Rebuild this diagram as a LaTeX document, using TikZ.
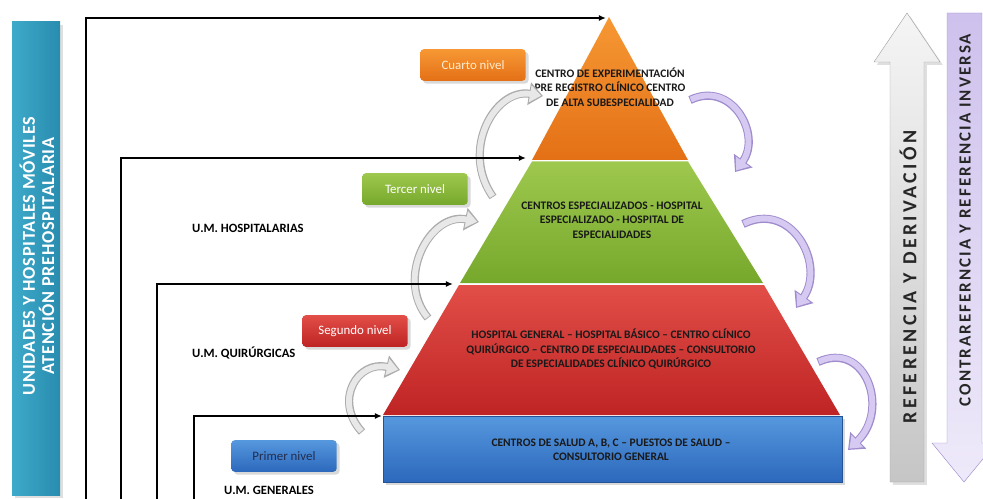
\documentclass[tikz,border=0pt]{standalone}
\usepackage{fontspec}
\setmainfont{Carlito}
\usetikzlibrary{arrows.meta,shadows}

\definecolor{barblue}{RGB}{62,170,202}
\definecolor{barbluedk}{RGB}{40,140,175}
\definecolor{orgtop}{RGB}{246,152,52}
\definecolor{orgbot}{RGB}{228,112,22}
\definecolor{grntop}{RGB}{158,200,78}
\definecolor{grnbot}{RGB}{118,168,44}
\definecolor{redtop}{RGB}{226,78,72}
\definecolor{redbot}{RGB}{190,36,36}
\definecolor{blutop}{RGB}{86,152,222}
\definecolor{blubot}{RGB}{44,104,188}
\definecolor{lila}{RGB}{214,202,242}
\definecolor{liladk}{RGB}{160,140,205}
\definecolor{cream}{RGB}{255,236,205}
\definecolor{navy}{RGB}{35,45,78}

\tikzset{
  frame/.style={line width=1.2pt, -{Latex[length=6pt,width=5pt]}},
  pyrtext/.style={font=\bfseries\fontsize{9.8}{12.3}\selectfont, text=black!90, align=center},
  umtext/.style={font=\bfseries\fontsize{10.8}{12}\selectfont, anchor=west},
  nivel/.style={rounded corners=3pt, minimum width=90pt, minimum height=27pt,
    font=\fontsize{11}{13}\selectfont, drop shadow={opacity=0.3}},
  grayout/.style={line width=7pt, draw=gray!65, -{Triangle[length=12pt,width=19pt]}},
  grayin/.style={line width=5pt, draw=gray!18, -{Triangle[length=9.5pt,width=14pt]},
    shorten >=1.6pt, shorten <=0.8pt},
  lilaout/.style={line width=7pt, draw=liladk, -{Triangle[length=12pt,width=19pt]}},
  lilain/.style={line width=5pt, draw=lila, -{Triangle[length=9.5pt,width=14pt]},
    shorten >=1.6pt, shorten <=0.8pt},
  bigtext/.style={text=black!85, rotate=90}
}

\begin{document}
\begin{tikzpicture}[x=0.3mm,y=-0.3mm]
\useasboundingbox (0,0) rectangle (983,499);

% left bar
\shade[left color=barblue, right color=barbluedk, drop shadow={opacity=0.25}]
  (12,22) rectangle (60,495);
\node[rotate=90, text=white, align=center,
  font=\bfseries\fontsize{15.5}{16.5}\selectfont\addfontfeatures{LetterSpace=4}]
  (bar) at (37,256) {UNIDADES Y HOSPITALES MÓVILES\\ATENCIÓN PREHOSPITALARIA};

% pyramid
\coordinate (apex) at (609,17);
\coordinate (ol) at (532,160);
\coordinate (or) at (688,160);
\coordinate (gl) at (460,283);
\coordinate (gr) at (763,283);
\coordinate (rl) at (383,415);
\coordinate (rr) at (840,415);

\shade[top color=orgtop, bottom color=orgbot] (apex) -- (or) -- (ol) -- cycle;
\shade[top color=grntop, bottom color=grnbot] (532,161.5) -- (688,161.5) -- (gr) -- (gl) -- cycle;
\shade[top color=redtop, bottom color=redbot] (459,285) -- (764,285) -- (rr) -- (rl) -- cycle;
\shade[top color=blutop, bottom color=blubot, draw=blubot!80!black, drop shadow={opacity=0.3}]
  (383,416) rectangle (842,482);

\node[pyrtext] (t4) at (610,87) {CENTRO DE EXPERIMENTACIÓN\\PRE REGISTRO CLÍNICO CENTRO\\DE ALTA SUBESPECIALIDAD};
\node[pyrtext] (t3) at (612,220) {CENTROS ESPECIALIZADOS - HOSPITAL\\ESPECIALIZADO - HOSPITAL DE\\ESPECIALIDADES};
\node[pyrtext] (t2) at (611,349) {HOSPITAL GENERAL – HOSPITAL BÁSICO – CENTRO CLÍNICO\\QUIRÚRGICO – CENTRO DE ESPECIALIDADES – CONSULTORIO\\DE ESPECIALIDADES CLÍNICO QUIRÚRGICO};
\node[pyrtext] (t1) at (611,450) {CENTROS DE SALUD A, B, C – PUESTOS DE SALUD –\\CONSULTORIO GENERAL};

% level labels
\node[nivel, top color=orgtop, bottom color=orgbot, text=cream] (n4) at (473,65) {Cuarto nivel};
\node[nivel, top color=grntop, bottom color=grnbot, text=white] (n3) at (415,189) {Tercer nivel};
\node[nivel, top color=redtop, bottom color=redbot, text=white] (n2) at (355,331) {Segundo nivel};
\node[nivel, top color=blutop, bottom color=blubot, text=navy] (n1) at (284,456) {Primer nivel};

\node[umtext] (um3) at (188,228) {U.M. HOSPITALARIAS};
\node[umtext] (um2) at (188,353) {U.M. QUIRÚRGICAS};
\node[umtext] (um1) at (220,490) {U.M. GENERALES};

% curved arrows up (referencia)
\coordinate (g1t) at (362,432); \coordinate (g1a) at (333,400);
\coordinate (g1b) at (358,360); \coordinate (g1h) at (400,370);
\coordinate (g2t) at (428,318); \coordinate (g2a) at (395,278);
\coordinate (g2b) at (430,212); \coordinate (g2h) at (479,222);
\coordinate (g3t) at (493,197); \coordinate (g3a) at (460,150);
\coordinate (g3b) at (495,88);  \coordinate (g3h) at (543,96);
\foreach \t/\a/\b/\h in {g1t/g1a/g1b/g1h, g2t/g2a/g2b/g2h, g3t/g3a/g3b/g3h} {
  \draw[grayout] (\t) .. controls (\a) and (\b) .. (\h);
  \draw[grayin] (\t) .. controls (\a) and (\b) .. (\h);
}

% curved arrows down (contrarreferencia)
\coordinate (p1t) at (690,100); \coordinate (p1a) at (732,80);
\coordinate (p1b) at (762,135); \coordinate (p1h) at (735,172);
\coordinate (p2t) at (743,224); \coordinate (p2a) at (792,200);
\coordinate (p2b) at (826,265); \coordinate (p2h) at (796,308);
\coordinate (p3t) at (818,362); \coordinate (p3a) at (866,340);
\coordinate (p3b) at (890,410); \coordinate (p3h) at (848,450);
\foreach \t/\a/\b/\h in {p1t/p1a/p1b/p1h, p2t/p2a/p2b/p2h, p3t/p3a/p3b/p3h} {
  \draw[lilaout] (\t) .. controls (\a) and (\b) .. (\h);
  \draw[lilain] (\t) .. controls (\a) and (\b) .. (\h);
}

% frames
\coordinate (f1) at (86,505);  \coordinate (e1) at (606,18);
\coordinate (f2) at (121,505); \coordinate (e2) at (526,158);
\coordinate (f3) at (157,505); \coordinate (e3) at (453,284);
\coordinate (f4) at (194,505); \coordinate (e4) at (382,416);
\draw[frame] (f1) |- (e1);
\draw[frame] (f2) |- (e2);
\draw[frame] (f3) |- (e3);
\draw[frame] (f4) |- (e4);

% big arrows on the right
\shade[top color=gray!8, bottom color=gray!45, draw=gray!70, drop shadow={opacity=0.25}]
  (890,482) -- (890,62) -- (874,62) -- (907,13) -- (940,62) -- (924,62) -- (924,482) -- cycle;
\node[bigtext, font=\bfseries\fontsize{17}{19}\selectfont\addfontfeatures{LetterSpace=17}]
  (ref) at (908,277) {REFERENCIA Y DERIVACIÓN};

\shade[top color=lila!85!liladk, bottom color=lila!40, draw=liladk]
  (947,13) -- (982,13) -- (982,443) -- (996,443) -- (964,482) -- (932,443) -- (947,443) -- cycle;
\node[bigtext, font=\bfseries\fontsize{14.5}{16}\selectfont\addfontfeatures{LetterSpace=12}]
  (contra) at (965,220) {CONTRAREFERNCIA Y REFERENCIA INVERSA};

\end{tikzpicture}
\end{document}
